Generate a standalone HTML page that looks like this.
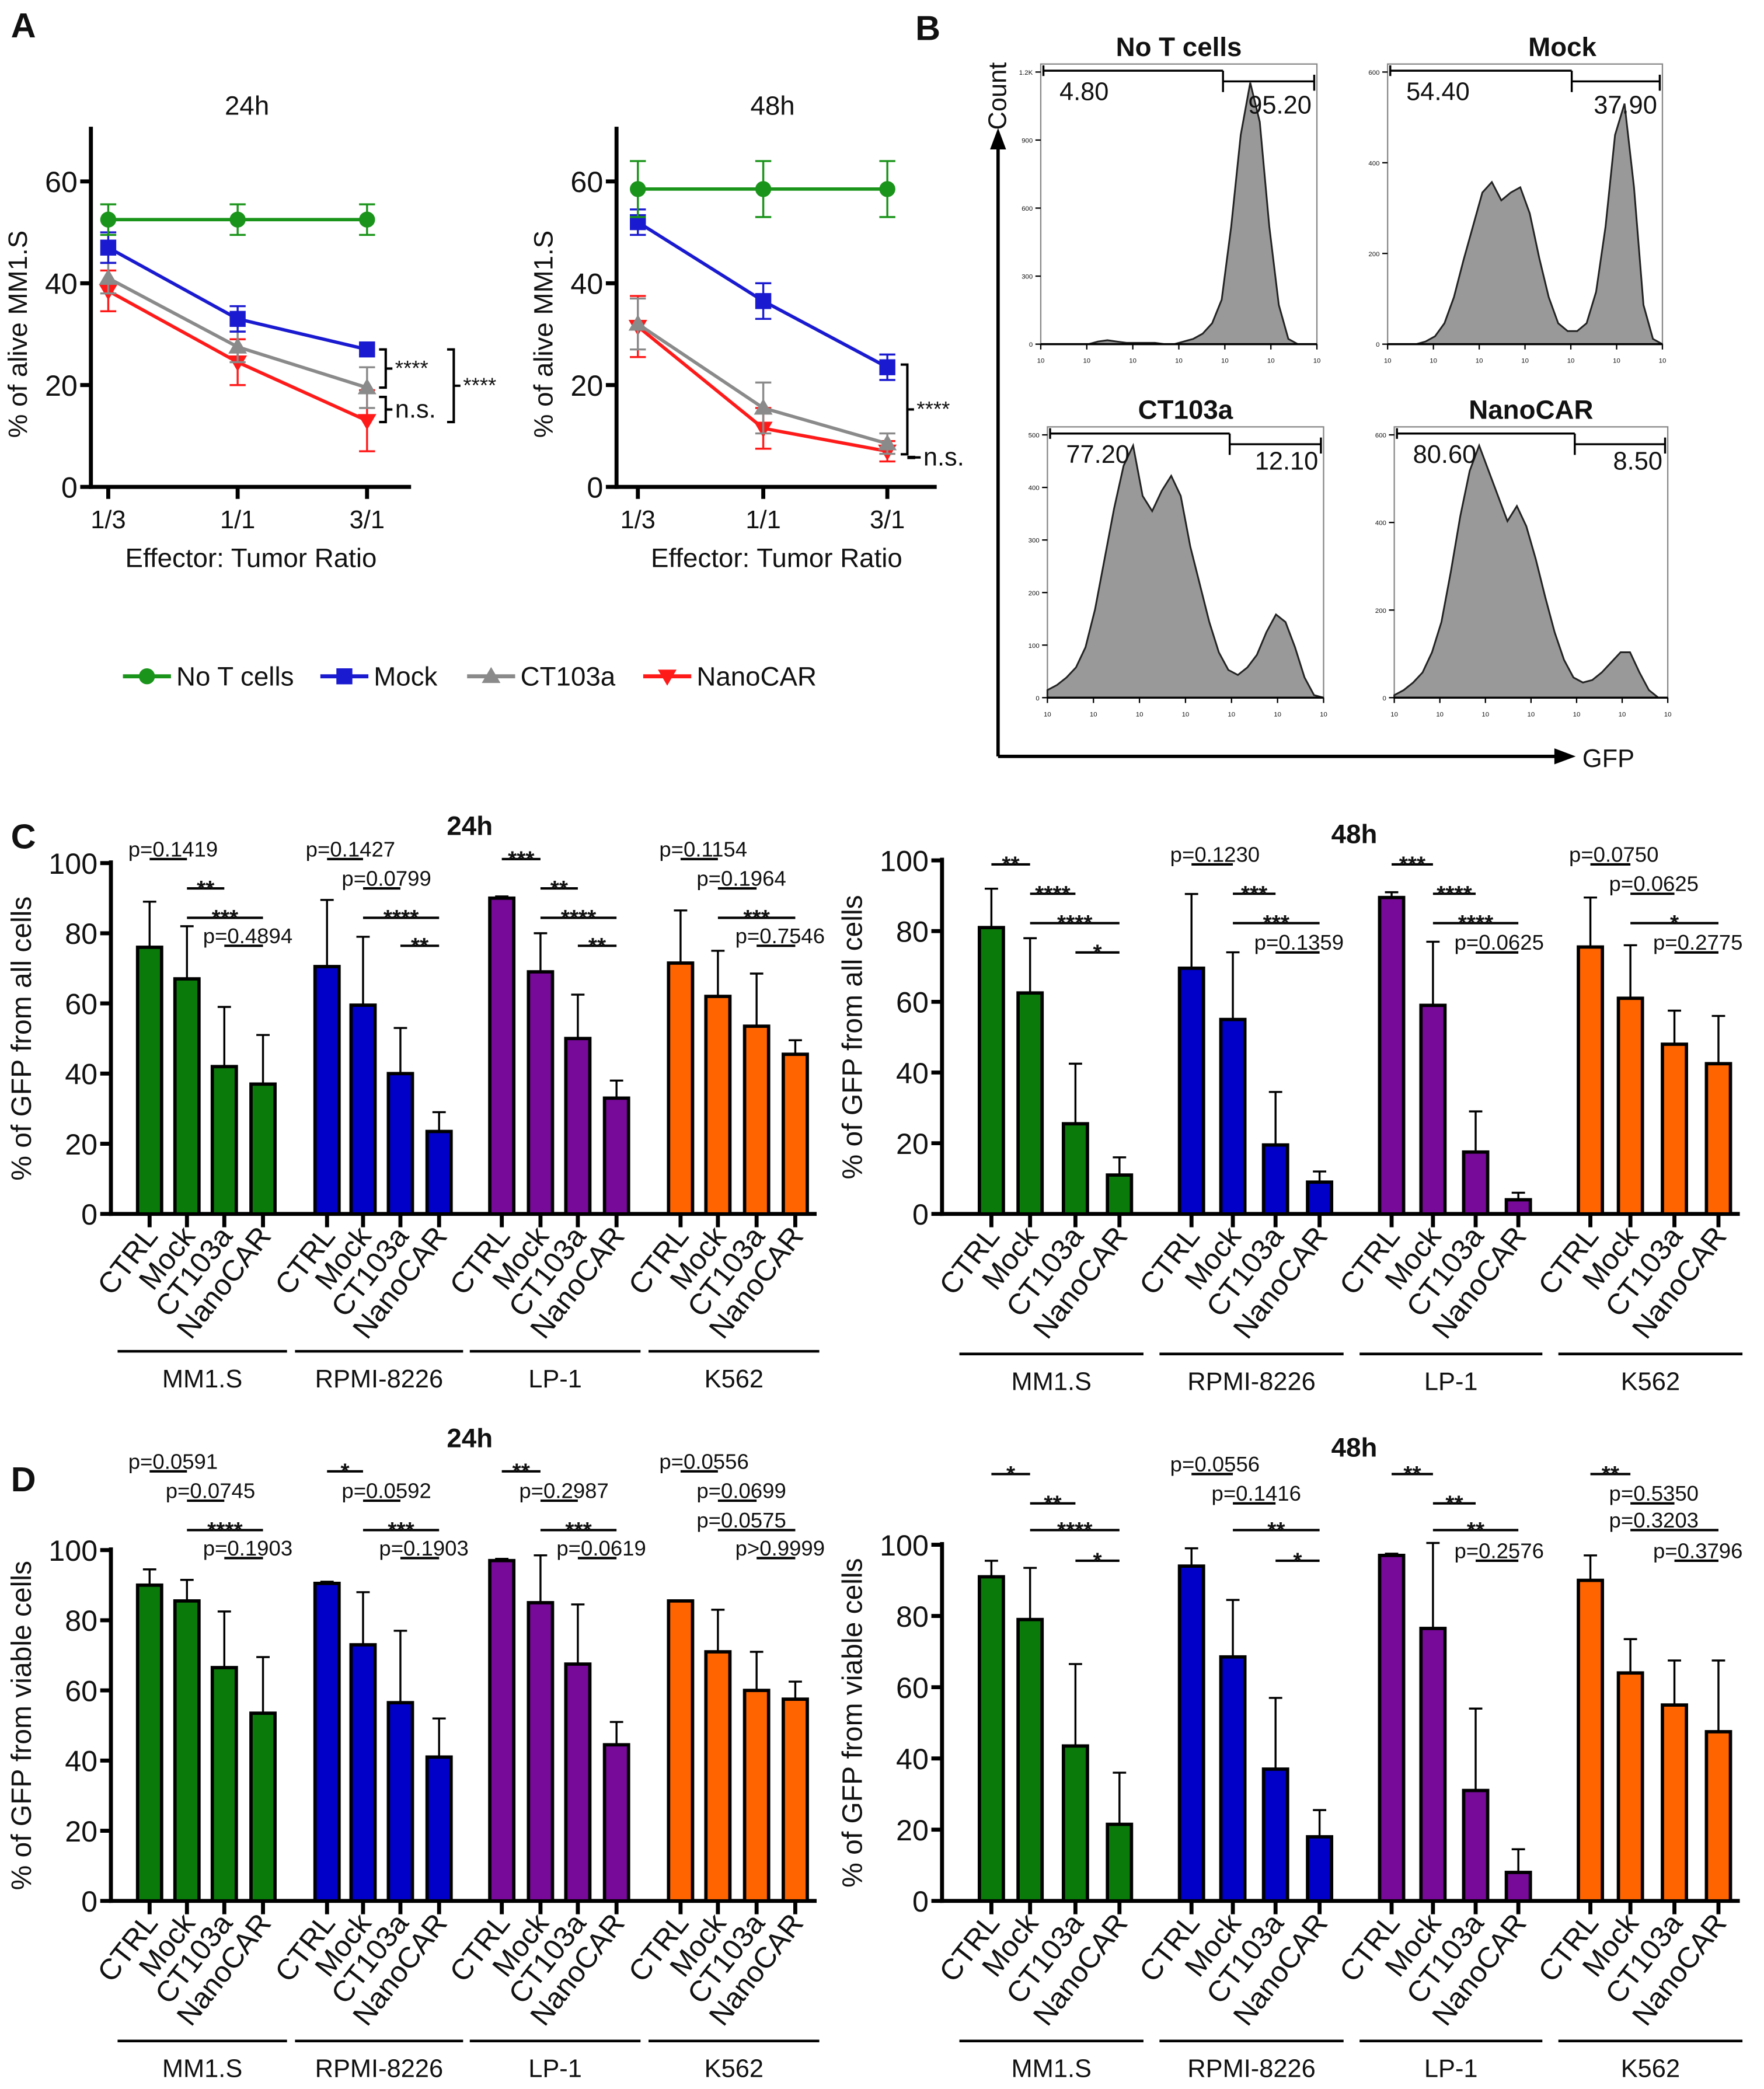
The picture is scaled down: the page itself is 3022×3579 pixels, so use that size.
<!DOCTYPE html>
<html><head><meta charset="utf-8"><style>
html,body{margin:0;padding:0;background:#fff}
svg{display:block}
text{font-family:"Liberation Sans",Arial,sans-serif;fill:#111}
</style></head><body>
<svg id="fig" width="3022" height="3579" viewBox="0 0 1322 1566" xmlns="http://www.w3.org/2000/svg">
<g>
<text x="8" y="28" font-size="26" font-weight="bold">A</text>
<text x="686" y="30" font-size="26" font-weight="bold">B</text>
<text x="8" y="636" font-size="26" font-weight="bold">C</text>
<text x="8" y="1118" font-size="26" font-weight="bold">D</text>
</g>
<g id="panelA"></g>
<g id="legendA"></g>
<g id="panelB"></g>
<g id="panelC"></g>
<g id="panelD"></g>
</svg>
<script>
const NS="http://www.w3.org/2000/svg";
// ---------- Panel A data ----------
const ratioLabels=["1/3","1/1","3/1"];
const seriesNames=["No T cells","Mock","CT103a","NanoCAR"];
const a24NoT=[52.5,52.5,52.5], a24NoTErr=[3,3,3];
const a24Mock=[47,33,27], a24MockErr=[3,2.5,1];
const a24CT=[41,27.5,19.5], a24CTErr=[3,3,4];
const a24Nano=[38.5,24.5,13], a24NanoErr=[4,4.5,6];
const a48NoT=[58.5,58.5,58.5], a48NoTErr=[5.5,5.5,5.5];
const a48Mock=[52,36.5,23.5], a48MockErr=[2.5,3.5,2.5];
const a48CT=[32,15.5,8.5], a48CTErr=[5,5,2];
const a48Nano=[31.5,11.5,7], a48NanoErr=[6,4,2];
const aTicks=[0,20,40,60];
// ---------- Panel B data (relative density over log GFP) ----------
const histNoT=[0,0,0,0,0,0,0.01,0.015,0.01,0.005,0.005,0.005,0.005,0,0,0.01,0.02,0.04,0.08,0.17,0.45,0.8,1.0,0.85,0.45,0.15,0.02,0,0,0];
const histMock=[0,0,0,0,0.01,0.03,0.08,0.18,0.32,0.45,0.58,0.62,0.55,0.58,0.6,0.5,0.33,0.18,0.08,0.05,0.05,0.08,0.2,0.45,0.8,0.92,0.6,0.15,0.02,0];
const histCT=[0.03,0.05,0.08,0.12,0.2,0.35,0.55,0.75,0.92,1.0,0.8,0.74,0.82,0.88,0.8,0.6,0.45,0.3,0.18,0.11,0.09,0.12,0.17,0.26,0.33,0.3,0.2,0.08,0.01,0];
const histNano=[0.01,0.03,0.06,0.1,0.18,0.3,0.5,0.72,0.9,1.0,0.9,0.8,0.7,0.76,0.68,0.55,0.4,0.26,0.15,0.08,0.06,0.07,0.1,0.14,0.18,0.18,0.1,0.03,0,0];
const gateLeft=["4.80","54.40","77.20","80.60"];
const gateRight=["95.20","37.90","12.10","8.50"];
const histTitles=["No T cells","Mock","CT103a","NanoCAR"];
// ---------- Panels C/D data ----------
const cellLines=["MM1.S","RPMI-8226","LP-1","K562"];
const conds=["CTRL","Mock","CT103a","NanoCAR"];
const barTicks=[0,20,40,60,80,100];
const c24Vals=[[76,67,42,37],[70.5,59.5,40,23.5],[90,69,50,33],[71.5,62,53.5,45.5]];
const c24Errs=[[13,15,17,14],[19,19.5,13,5.5],[0.5,11,12.5,5],[15,13,15,4]];
const c48Vals=[[81,62.5,25.5,11],[69.5,55,19.5,9],[89.5,59,17.5,4],[75.5,61,48,42.5]];
const c48Errs=[[11,15.5,17,5],[21,19,15,3],[1.5,18,11.5,2],[14,15,9.5,13.5]];
const d24Vals=[[90,85.5,66.5,53.5],[90.5,73,56.5,41],[97,85,67.5,44.5],[85.5,71,60,57.5]];
const d24Errs=[[4.5,6,16,16],[0.5,15,20.5,11],[0.5,13.5,17,6.5],[0,12,11,5]];
const d48Vals=[[91,79,43.5,21.5],[94,68.5,37,18],[97,76.5,31,8],[90,64,55,47.5]];
const d48Errs=[[4.5,14.5,23,14.5],[5,16,20,7.5],[0.5,24,23,6.5],[7,9.5,12.5,20]];
const c24Sig=[["p=0.1419","**","***","p=0.4894"],["p=0.1427","p=0.0799","****","**"],["***","**","****","**"],["p=0.1154","p=0.1964","***","p=0.7546"]];
const c48Sig=[["**","****","****","*"],["p=0.1230","***","***","p=0.1359"],["***","****","****","p=0.0625"],["p=0.0750","p=0.0625","*","p=0.2775"]];
const d24Sig=[["p=0.0591","p=0.0745","****","p=0.1903"],["*","p=0.0592","***","p=0.1903"],["**","p=0.2987","***","p=0.0619"],["p=0.0556","p=0.0699","p=0.0575","p>0.9999"]];
const d48Sig=[["*","**","****","*"],["p=0.0556","p=0.1416","**","*"],["**","**","**","p=0.2576"],["**","p=0.5350","p=0.3203","p=0.3796"]];
const sigPairs=[[0,1],[1,2],[1,3],[2,3]];
const barColors=["#0a7a0a","#0000c8","#780a9a","#ff6400"];

function el(tag,attrs,parent){const e=document.createElementNS(NS,tag);for(const k in attrs)e.setAttribute(k,attrs[k]);parent.appendChild(e);return e;}
function txt(parent,x,y,s,size,anchor,extra){const t=el("text",Object.assign({x:x,y:y,"font-size":size,"text-anchor":anchor||"middle"},extra||{}),parent);t.textContent=s;return t;}

// ---------- Panel A ----------
const pA=document.getElementById("panelA");
const lineColors=["#1a941a","#1a1ad0","#8a8a8a","#ff1a1a"];
function lineChart(ox,xs,title,data,errs,name){
  const g=el("g",{},pA);
  
  
  const y0=365,ypp=(365-136)/60;
  const X=i=>xs[i], Y=v=>y0-v*ypp;
  el("line",{x1:ox,y1:95,x2:ox,y2:y0+1.5,stroke:"#000","stroke-width":3},g);
  el("line",{x1:ox-1.5,y1:y0,x2:ox+240,y2:y0,stroke:"#000","stroke-width":3},g);
  aTicks.forEach(v=>{el("line",{x1:ox-8,y1:Y(v),x2:ox,y2:Y(v),stroke:"#000","stroke-width":3},g);
    const t=txt(g,ox-10,Y(v)+8,String(v),22,"end");});
  ratioLabels.forEach((l,i)=>{el("line",{x1:X(i),y1:y0,x2:X(i),y2:y0+9,stroke:"#000","stroke-width":3},g);
    const t=txt(g,X(i),y0+31,l,19);});
  const tt=txt(g,ox+117,86,title,20);
  const xl=txt(g,ox+120,425,"Effector: Tumor Ratio",20);
  const yl=txt(g,0,0,"% of alive MM1.S",20,"middle",{transform:`translate(${ox-48},${Y(30)}) rotate(-90)`});
  for(let s=3;s>=0;s--){
    const sg=el("g",{},g);
    
    
    const c=lineColors[s];
    data[s].forEach((v,i)=>{const e=errs[s][i];
      el("line",{x1:X(i),y1:Y(v-e),x2:X(i),y2:Y(v+e),stroke:c,"stroke-width":1.5},sg);
      el("line",{x1:X(i)-6,y1:Y(v-e),x2:X(i)+6,y2:Y(v-e),stroke:c,"stroke-width":1.5},sg);
      el("line",{x1:X(i)-6,y1:Y(v+e),x2:X(i)+6,y2:Y(v+e),stroke:c,"stroke-width":1.5},sg);});
    el("polyline",{points:data[s].map((v,i)=>X(i)+","+Y(v)).join(" "),fill:"none",stroke:c,"stroke-width":2.5},sg);
    data[s].forEach((v,i)=>marker(sg,s,X(i),Y(v),c));
  }
  return {X,Y,g};
}
function marker(g,s,x,y,c){
  let m;
  if(s===0)m=el("circle",{cx:x,cy:y,r:6,fill:c},g);
  else if(s===1)m=el("rect",{x:x-6,y:y-6,width:12,height:12,fill:c},g);
  else if(s===2)m=el("polygon",{points:`${x},${y-7} ${x-7},${y+5} ${x+7},${y+5}`,fill:c},g);
  else m=el("polygon",{points:`${x},${y+7} ${x-7},${y-5} ${x+7},${y-5}`,fill:c},g);
  
  
}
const A1=lineChart(68,[81,178,275],"24h",[a24NoT,a24Mock,a24CT,a24Nano],[a24NoTErr,a24MockErr,a24CTErr,a24NanoErr],"line-chart-24h");
const A2=lineChart(462,[478,572,665],"48h",[a48NoT,a48Mock,a48CT,a48Nano],[a48NoTErr,a48MockErr,a48CTErr,a48NanoErr],"line-chart-48h");
function bracket(g,x,ya,yb,label){
  const ym=(ya+yb)/2;
  el("path",{d:`M${x},${ya} h5 v${yb-ya} h-5 M${x+5},${ym} h5`,fill:"none",stroke:"#000","stroke-width":1.8},g);
  const t=txt(g,x+12,ym+(label==="n.s."?6:5),label,label==="n.s."?19:16,"start");
  
  
}
bracket(A1.g,284,A1.Y(a24Mock[2]),A1.Y(a24CT[2]),"****");
bracket(A1.g,284,A1.Y(a24CT[2])+7,A1.Y(a24Nano[2])+1,"n.s.");
bracket(A1.g,335,A1.Y(a24Mock[2]),A1.Y(a24Nano[2])+1,"****");
bracket(A2.g,675,A2.Y(a48Mock[2])-2,A2.Y(a48CT[2])+8,"****");
bracket(A2.g,680,A2.Y(a48CT[2])+10,A2.Y(a48Nano[2])+5,"n.s.");
// legend
const lg=document.getElementById("legendA");
const lx=[92,240,350,482];
seriesNames.forEach((n,s)=>{
  const g=el("g",{},lg);
  
  
  el("line",{x1:lx[s],y1:507,x2:lx[s]+36,y2:507,stroke:lineColors[s],"stroke-width":3},g);
  marker(g,s,lx[s]+18,507,lineColors[s]);
  txt(g,lx[s]+40,514,n,20,"start");
});

// ---------- Panel B ----------
const pB=document.getElementById("panelB");
el("path",{d:"M748,567 V110",stroke:"#000","stroke-width":2.5,fill:"none"},pB);
el("polygon",{points:"748,96 742,112 754,112",fill:"#000"},pB);
el("path",{d:"M748,567 H1166",stroke:"#000","stroke-width":2.5,fill:"none"},pB);
el("polygon",{points:"1181,567 1165,561 1165,573",fill:"#000"},pB);
const ct=txt(pB,0,0,"Count",19,"middle",{transform:"translate(754,72) rotate(-90)"});
const gt=txt(pB,1186,575,"GFP",19,"start");
const boxes=[[780,48,987,258],[1040,48,1246,258],[785,320,992,523],[1045,320,1250,523]];
const hists=[histNoT,histMock,histCT,histNano];
const gateX=[0.66,0.67,0.66,0.66];
const yTickSets=[["0","300","600","900","1.2K"],["0","200","400","600"],["0","100","200","300","400","500"],["0","200","400","600"]];
hists.forEach((h,k)=>{
  const [x0,y0,x1,y1]=boxes[k];const g=el("g",{},pB);
  
  
  el("rect",{x:x0,y:y0,width:x1-x0,height:y1-y0,fill:"none",stroke:"#888","stroke-width":1},g);
  const w=x1-x0,hh=(y1-y0)-14;
  const pts=h.map((v,i)=>`${x0+i/(h.length-1)*w},${y1-v*hh}`);
  const p=el("path",{d:`M${x0},${y1} L${pts.join(" L")} L${x1},${y1} Z`,fill:"#999",stroke:"#222","stroke-width":1.3},g);
  
  
  el("line",{x1:x0,y1:y1,x2:x1,y2:y1,stroke:"#000","stroke-width":1.5},g);
  for(let d=0;d<=6;d++){const tx=x0+d/6*w;el("line",{x1:tx,y1:y1,x2:tx,y2:y1+4,stroke:"#000","stroke-width":1},g);
    txt(g,tx,y1+14,"10",5);}
  yTickSets[k].forEach((s,i)=>{const ty=y1-i/(yTickSets[k].length-1)*(y1-y0-6);
    el("line",{x1:x0-4,y1:ty,x2:x0,y2:ty,stroke:"#000","stroke-width":1},g);txt(g,x0-6,ty+2,s,5,"end");});
  const gx=x0+gateX[k]*w;
  el("path",{d:`M${x0+2},${y0+1} v8 M${x0+2},${y0+5} H${gx} M${gx},${y0+5} v16 M${gx},${y0+13} H${x1-2} M${x1-2},${y0+8} v12`,stroke:"#000","stroke-width":1.5,fill:"none"},g);
  const t1=txt(g,x0+14,y0+27,gateLeft[k],19,"start");
  const t2=txt(g,x1-4,y0+(k===0||k===1?37:32),gateRight[k],19,"end");
  const t3=txt(g,(x0+x1)/2+(k===1?28:0),y0-6,histTitles[k],20,"middle",{"font-weight":"bold"});
});

// ---------- Bar charts ----------
function barChart(parent,cfg){
  const g=el("g",{},parent);
  
  
  const {ox,y0,y100,xs,vals,errs,sig,sigY,lineY,ylabel,title,tx,ty}=cfg;
  const Y=v=>y0-(y0-y100)*v/100;
  const right=xs[3][3]+16;
  el("line",{x1:ox,y1:Y(100)-2,x2:ox,y2:y0+1.5,stroke:"#000","stroke-width":3},g);
  el("line",{x1:ox-1.5,y1:y0,x2:right,y2:y0,stroke:"#000","stroke-width":3},g);
  barTicks.forEach(v=>{el("line",{x1:ox-8,y1:Y(v),x2:ox,y2:Y(v),stroke:"#000","stroke-width":3},g);
    const t=txt(g,ox-10,Y(v)+8,String(v),22,"end");});
  const yl=txt(g,0,0,ylabel,21,"middle",{transform:`translate(${ox-60},${Y(50)}) rotate(-90)`});
  
  const tt=txt(g,tx,ty,title,20,"middle",{"font-weight":"bold"});
  const bw=18;
  vals.forEach((grp,gi)=>{
    grp.forEach((v,bi)=>{const x=xs[gi][bi],e=errs[gi][bi];
      el("line",{x1:x,y1:Y(v),x2:x,y2:Y(v+e),stroke:"#000","stroke-width":1.5},g);
      el("line",{x1:x-5,y1:Y(v+e),x2:x+5,y2:Y(v+e),stroke:"#000","stroke-width":1.5},g);
      const r=el("rect",{x:x-bw/2,y:Y(v),width:bw,height:y0-Y(v),fill:barColors[gi],stroke:"#000","stroke-width":2.5},g);
      
      
      el("line",{x1:x,y1:y0,x2:x,y2:y0+10,stroke:"#000","stroke-width":3},g);
      const lab=txt(g,0,0,conds[bi],22,"end",{transform:`translate(${x+7},${y0+17}) rotate(-52)`});
      
    });
    const gl=xs[gi][0]-24,gr=xs[gi][3]+18;
    el("line",{x1:gl,y1:lineY,x2:gr,y2:lineY,stroke:"#000","stroke-width":2},g);
    const cl=txt(g,(gl+gr)/2,lineY+27,cellLines[gi],19);
    sig[gi].forEach((s,si)=>{const [a,b]=sigPairs[si];const xa=xs[gi][a],xb=xs[gi][b],yy=sigY[si];
      el("line",{x1:xa,y1:yy,x2:xb,y2:yy,stroke:"#000","stroke-width":1.8},g);
      const isP=s[0]==="p";
      const t=txt(g,isP?xa-16:(xa+xb)/2,isP?yy-2:yy+6,s,isP?16:17,isP?"start":"middle",isP?{}:{"font-weight":"bold"});
      
    });
  });
}
const xsC24=[[112,140,168,197],[245,272,300,329],[376,405,433,462],[510,538,567,596]];
const xsC48=[[743,772,806,839],[893,924,956,989],[1043,1074,1106,1138],[1192,1222,1255,1288]];
barChart(document.getElementById("panelC"),{name:"bar-chart-c-24h",ox:83,y0:910,y100:647,xs:xsC24,vals:c24Vals,errs:c24Errs,sig:c24Sig,sigY:[644,666,688,709],lineY:1013,ylabel:"% of GFP from all cells",title:"24h",tx:352,ty:626});
barChart(document.getElementById("panelC"),{name:"bar-chart-c-48h",ox:706,y0:910,y100:645,xs:xsC48,vals:c48Vals,errs:c48Errs,sig:c48Sig,sigY:[648,670,692,714],lineY:1015,ylabel:"% of GFP from all cells",title:"48h",tx:1015,ty:632});
barChart(document.getElementById("panelD"),{name:"bar-chart-d-24h",ox:83,y0:1425,y100:1162,xs:xsC24,vals:d24Vals,errs:d24Errs,sig:d24Sig,sigY:[1103,1125,1147,1168],lineY:1530,ylabel:"% of GFP from viable cells",title:"24h",tx:352,ty:1085});
barChart(document.getElementById("panelD"),{name:"bar-chart-d-48h",ox:706,y0:1425,y100:1158,xs:xsC48,vals:d48Vals,errs:d48Errs,sig:d48Sig,sigY:[1105,1127,1147,1170],lineY:1530,ylabel:"% of GFP from viable cells",title:"48h",tx:1015,ty:1092});
</script>
</body></html>
